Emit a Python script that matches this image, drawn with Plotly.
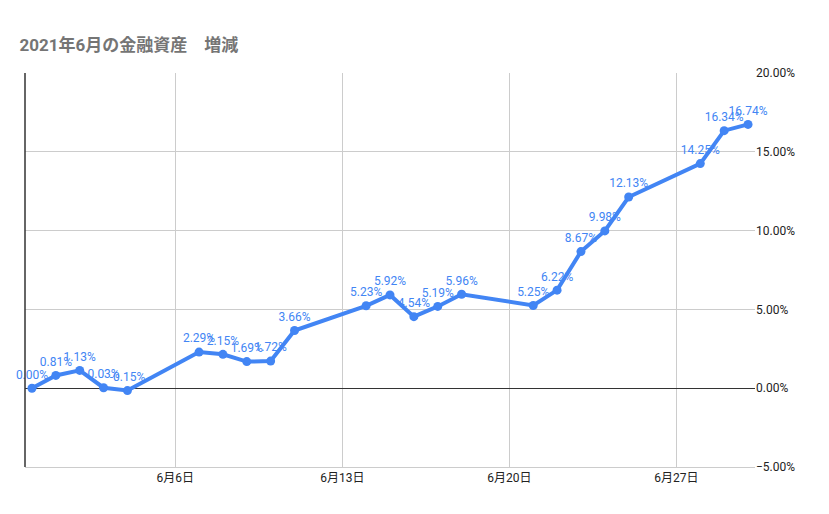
import plotly.graph_objects as go

dates = ["2021-05-31", "2021-06-01", "2021-06-02", "2021-06-03", "2021-06-04",
         "2021-06-07", "2021-06-08", "2021-06-09", "2021-06-10", "2021-06-11",
         "2021-06-14", "2021-06-15", "2021-06-16", "2021-06-17", "2021-06-18",
         "2021-06-21", "2021-06-22", "2021-06-23", "2021-06-24", "2021-06-25",
         "2021-06-28", "2021-06-29", "2021-06-30"]
values = [0.00, 0.81, 1.13, 0.03, -0.15,
          2.29, 2.15, 1.69, 1.72, 3.66,
          5.23, 5.92, 4.54, 5.19, 5.96,
          5.25, 6.22, 8.67, 9.98, 12.13,
          14.25, 16.34, 16.74]
tick_dates = ["2021-06-06", "2021-06-13", "2021-06-20", "2021-06-27"]
tick_labels = ["6月6日", "6月13日", "6月20日", "6月27日"]

blue = "#4285F4"
font = "Roboto, 'Noto Sans CJK JP', sans-serif"

fig = go.Figure(go.Scatter(
    x=dates, y=values,
    mode="lines+markers+text",
    line=dict(color=blue, width=4),
    marker=dict(color=blue, size=9),
    text=[f"{v:.2f}%" for v in values],
    textposition="top center",
    textfont=dict(color=blue, size=12, family=font),
    cliponaxis=False,
))

fig.update_layout(
    width=829, height=514,
    margin=dict(l=17, r=82, t=65, b=55),
    paper_bgcolor="white", plot_bgcolor="white",
    showlegend=False,
    title=dict(text="<b>2021年6月の金融資産　増減</b>", x=0.014, y=0.94,
               xanchor="left", font=dict(size=17, color="#757575", family=font)),
    xaxis=dict(range=["2021-05-30 17:00", "2021-06-30 07:00"],
               tickvals=tick_dates, ticktext=tick_labels,
               showgrid=True, gridcolor="#cccccc",
               showline=True, linecolor="#cccccc",
               tickfont=dict(size=12, color="#222222", family=font)),
    yaxis=dict(range=[-5, 20], dtick=5, side="right",
               tickformat=".2f", ticksuffix="%",
               showgrid=True, gridcolor="#cccccc",
               zeroline=True, zerolinecolor="#333333", zerolinewidth=1,
               tickfont=dict(size=12, color="#222222", family=font)),
)
fig.add_shape(type="line", xref="paper", yref="paper", x0=0, x1=0, y0=0, y1=1,
              line=dict(color="#333333", width=1.5))

fig.write_html("out.html")
